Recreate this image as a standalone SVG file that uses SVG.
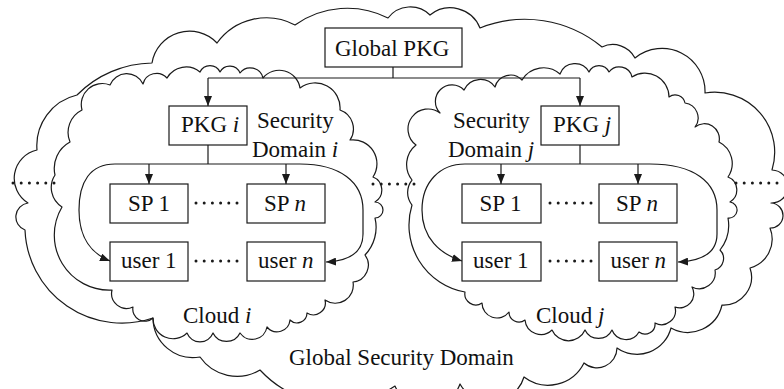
<svg xmlns="http://www.w3.org/2000/svg" width="784" height="389" viewBox="0 0 784 389">
  <style>
    .cloud { fill: none; stroke: #1a1a1a; stroke-width: 1.2; stroke-linejoin: round; }
    .box { fill: #ffffff; stroke: #1a1a1a; stroke-width: 1.2; }
    .wire { fill: none; stroke: #1a1a1a; stroke-width: 1.2; }
    .dots { fill: none; stroke: #1a1a1a; stroke-width: 3; stroke-linecap: round; stroke-dasharray: 0 8.2; }
    text { font-family: "Liberation Serif", "Times New Roman", serif; font-size: 23px; fill: #111111; }
    .it { font-style: italic; }
  </style>
  <defs>
    <marker id="arrow" markerUnits="userSpaceOnUse" markerWidth="10" markerHeight="8" refX="10" refY="4" orient="auto">
      <path d="M0,0 L10,4 L0,8 Z" fill="#1a1a1a"/>
    </marker>
  </defs>

  <!-- clouds -->
  <g id="global-domain">
    <path class="cloud" d="M153,318 A97,97 0 0 1 25,230 A14,14 0 0 1 28,203 A29,29 0 0 1 37,150 A52,52 0 0 1 77,95 A108,108 0 0 1 152,63 A38,38 0 0 1 217,43 A61,61 0 0 1 295,25 A90,90 0 0 1 388,18 A28,28 0 0 1 430,15 A32,32 0 0 1 480,28 A121,121 0 0 1 602,47 A25,25 0 0 1 635,58 A43,43 0 0 1 705,93 A60,60 0 0 1 772,170 A1,1 0 0 1 771,203 A1,1 0 0 1 770,228 A30,30 0 0 1 750,268 A28,28 0 0 1 722,305 A35,35 0 0 1 671,328 A35,35 0 0 1 617,348 A20,20 0 0 1 584,363 A40,40 0 0 1 524,377 A35,35 0 0 1 460,384 A35,35 0 0 1 395,386 A105,105 0 0 1 260,370 A45,45 0 0 1 200,357 A40,40 0 0 1 153,318 Z"/>
  </g>
  <g id="domain-i">
    <path class="cloud" d="M82,110 A21,21 0 0 1 110,85 A18,18 0 0 1 143,84 A14,14 0 0 1 167,78 A22,22 0 0 1 200,72 A11,11 0 0 1 220,72 A11,11 0 0 1 240,73 A13,13 0 0 1 263,78 A21,21 0 0 1 300,88 A25,25 0 0 1 340,110 A20,20 0 0 1 350,140 A24,24 0 0 1 373,177 A14,14 0 0 1 375,202 A8,8 0 0 1 375,218 A40,40 0 0 1 365,255 A17,17 0 0 1 353,282 A18,18 0 0 1 325,300 A12,12 0 0 1 307,313 A10,10 0 0 1 290,320 A13,13 0 0 1 267,327 A15,15 0 0 1 240,333 A15,15 0 0 1 213,333 A14,14 0 0 1 187,333 A20,20 0 0 1 153,318 A12,12 0 0 1 133,307 A15,15 0 0 1 112,290 A55,55 0 0 1 62,207 A23,23 0 0 1 55,175 A30,30 0 0 1 70,142 A25,25 0 0 1 82,110 Z"/>
    <text x="257" y="128">Security</text>
    <text x="252" y="157">Domain <tspan class="it">i</tspan></text>
    <text x="183" y="323">Cloud <tspan class="it">i</tspan></text>
  </g>
  <g id="domain-j">
    <path class="cloud" d="M412,180 A25,25 0 0 1 416,145 A20,20 0 0 1 440,113 A16,16 0 0 1 464,90 A18,18 0 0 1 495,87 A16,16 0 0 1 522,80 A25,25 0 0 1 560,74 A16,16 0 0 1 589,72 A11,11 0 0 1 609,72 A13,13 0 0 1 632,77 A24,24 0 0 1 669,97 A10,10 0 0 1 685,103 A15,15 0 0 1 695,127 A15,15 0 0 1 719,142 A24,24 0 0 1 728,177 A14,14 0 0 1 730,202 A8,8 0 0 1 728,218 A40,40 0 0 1 720,250 A12,12 0 0 1 715,270 A16,16 0 0 1 692,287 A14,14 0 0 1 675,307 A14,14 0 0 1 655,323 A10,10 0 0 1 639,332 A15,15 0 0 1 612,330 A15,15 0 0 1 585,330 A18,18 0 0 1 552,330 A16,16 0 0 1 525,320 A10,10 0 0 1 509,312 A15,15 0 0 1 482,303 A11,11 0 0 1 465,292 A68,68 0 0 1 412,205 A20,20 0 0 1 412,180 Z"/>
    <text x="453" y="128">Security</text>
    <text x="448" y="157">Domain <tspan class="it">j</tspan></text>
    <text x="536" y="323">Cloud <tspan class="it">j</tspan></text>
  </g>
  <g id="global-label">
    <text x="289" y="365">Global Security Domain</text>
  </g>

  <!-- connectors -->
  <g id="connectors">
    <path class="wire" d="M393,67 V78 M208,78 H580"/>
    <path class="wire" d="M208,78 V106" marker-end="url(#arrow)"/>
    <path class="wire" d="M580,78 V106" marker-end="url(#arrow)"/>
    <!-- domain i -->
    <path class="wire" d="M208,145 V164"/>
    <path class="wire" d="M208,164 H115 C90,164 79,182 79,210 C79,238 92,254 110,261" marker-end="url(#arrow)"/>
    <path class="wire" d="M208,164 H300 C340,164 363,182 363,210 V234 C363,252 350,261 326,262" marker-end="url(#arrow)"/>
    <path class="wire" d="M149,164 V184" marker-end="url(#arrow)"/>
    <path class="wire" d="M286,164 V184" marker-end="url(#arrow)"/>
    <!-- domain j -->
    <path class="wire" d="M580,145 V164"/>
    <path class="wire" d="M580,164 H465 C440,164 422,182 422,210 C422,238 440,254 462,261" marker-end="url(#arrow)"/>
    <path class="wire" d="M580,164 H650 C694,164 717,182 717,210 V234 C717,252 703,261 678,262" marker-end="url(#arrow)"/>
    <path class="wire" d="M501,164 V184" marker-end="url(#arrow)"/>
    <path class="wire" d="M638,164 V184" marker-end="url(#arrow)"/>
  </g>

  <!-- ellipsis dots -->
  <g id="ellipses">
    <path class="dots" d="M13,183 H54 M373,184 H414 M736,183 H777"/>
    <path class="dots" d="M196,203 H237 M196,261 H237 M550,203 H591 M550,261 H591"/>
  </g>

  <!-- nodes -->
  <g id="global-pkg">
    <rect class="box" x="325" y="28" width="137" height="39"/>
    <text x="335" y="55.5">Global PKG</text>
  </g>
  <g id="pkg-i">
    <rect class="box" x="169" y="106" width="78" height="39"/>
    <text x="181" y="132">PKG <tspan class="it">i</tspan></text>
  </g>
  <g id="pkg-j">
    <rect class="box" x="541" y="106" width="78" height="39"/>
    <text x="553" y="132">PKG <tspan class="it">j</tspan></text>
  </g>
  <g id="sp1-i">
    <rect class="box" x="110" y="184" width="78" height="39"/>
    <text x="128" y="211">SP 1</text>
  </g>
  <g id="spn-i">
    <rect class="box" x="247" y="184" width="78" height="39"/>
    <text x="264" y="211">SP <tspan class="it">n</tspan></text>
  </g>
  <g id="user1-i">
    <rect class="box" x="110" y="242" width="78" height="39"/>
    <text x="121" y="268">user 1</text>
  </g>
  <g id="usern-i">
    <rect class="box" x="247" y="242" width="78" height="39"/>
    <text x="258" y="268">user <tspan class="it">n</tspan></text>
  </g>
  <g id="sp1-j">
    <rect class="box" x="462" y="184" width="79" height="39"/>
    <text x="479.5" y="211">SP 1</text>
  </g>
  <g id="spn-j">
    <rect class="box" x="599" y="184" width="78" height="39"/>
    <text x="616" y="211">SP <tspan class="it">n</tspan></text>
  </g>
  <g id="user1-j">
    <rect class="box" x="462" y="242" width="79" height="39"/>
    <text x="473" y="268">user 1</text>
  </g>
  <g id="usern-j">
    <rect class="box" x="599" y="242" width="78" height="39"/>
    <text x="610.5" y="268">user <tspan class="it">n</tspan></text>
  </g>
</svg>
